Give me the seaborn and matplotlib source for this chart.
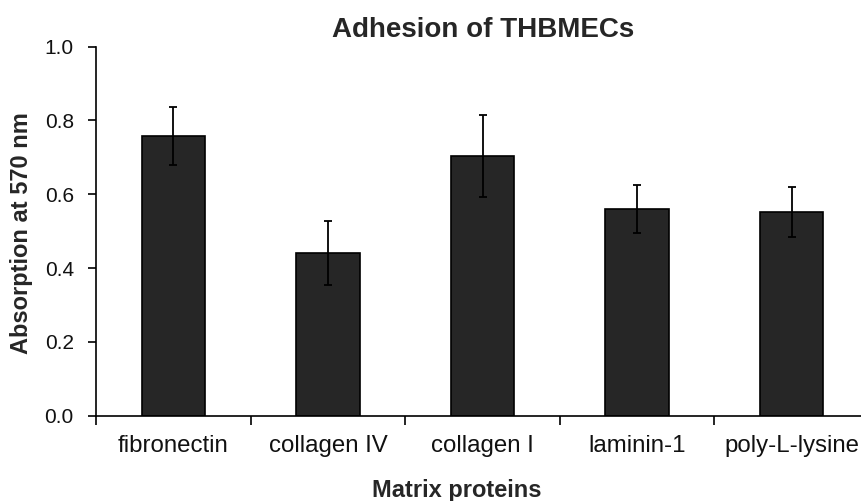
import matplotlib
matplotlib.use("Agg")
import matplotlib.pyplot as plt
import seaborn as sns
import pandas as pd
import numpy as np
from matplotlib.ticker import FixedLocator, FormatStrFormatter

categories = ["fibronectin", "collagen IV", "collagen I", "laminin-1", "poly-L-lysine"]
values = [0.758, 0.441, 0.704, 0.560, 0.552]
errors = [0.079, 0.087, 0.112, 0.066, 0.069]
title = "Adhesion of THBMECs"
xlabel = "Matrix proteins"
ylabel = "Absorption at 570 nm"

sns.set_theme(style="ticks")
plt.rcParams['font.family'] = ['Liberation Sans', 'DejaVu Sans']

df = pd.DataFrame({"protein": categories, "absorption": values})

fig = plt.figure(figsize=(8.61, 5.01), dpi=100)
ax = fig.add_axes([96/861, (501-415.7)/501, (869-96)/861, (415.7-46.7)/501])

sns.barplot(data=df, x="protein", y="absorption", order=categories, color="#262626",
            edgecolor="black", linewidth=1.2, width=0.41, saturation=1, ax=ax, errorbar=None)
ax.errorbar(np.arange(len(categories)), values, yerr=errors, fmt="none",
            ecolor="black", elinewidth=1.3, capsize=3, capthick=1.3)

ax.set_xlim(-0.5, len(categories) - 0.5)
ax.set_ylim(0, 1.0)
ax.set_yticks([0.0, 0.2, 0.4, 0.6, 0.8, 1.0])
ax.yaxis.set_major_formatter(FormatStrFormatter("%.1f"))
ax.xaxis.set_minor_locator(FixedLocator(np.arange(-0.5, len(categories), 1.0)))
ax.tick_params(axis="x", which="major", length=0, pad=14, labelsize=17.3, labelcolor="#111111")
ax.tick_params(axis="x", which="minor", length=6.5, width=1.2, direction="out", color="black")
ax.tick_params(axis="y", length=6, width=1.2, direction="out", color="black", labelsize=15,
               pad=10, labelcolor="#111111")

for s in ["top", "right"]:
    ax.spines[s].set_visible(False)
for s in ["left", "bottom"]:
    ax.spines[s].set_color("black")
    ax.spines[s].set_linewidth(1.2)

ax.set_xlabel("")
ax.set_ylabel("")
fig.text(483/861, 1 - 30/501, title, ha="center", va="center", fontsize=20, fontweight="bold")
fig.text(457/861, 1 - 490/501, xlabel, ha="center", va="center", fontsize=17, fontweight="bold")
fig.text(22/861, 1 - 233/501, ylabel, ha="center", va="center", rotation=90, fontsize=17, fontweight="bold")

fig.savefig("out.png", dpi=100)
